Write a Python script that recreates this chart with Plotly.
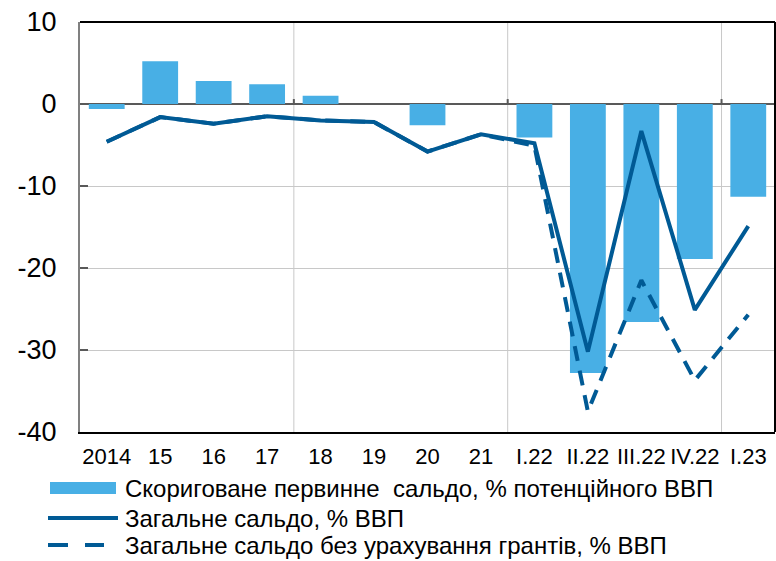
import plotly.graph_objects as go

categories = ["2014", "15", "16", "17", "18", "19", "20", "21",
              "I.22", "II.22", "III.22", "IV.22", "I.23"]
adjusted_primary = [-0.6, 5.2, 2.8, 2.4, 1.0, None, -2.6, None,
                    -4.1, -32.8, -26.6, -18.9, -11.3]
overall_balance = [-4.6, -1.6, -2.4, -1.5, -2.0, -2.2, -5.8, -3.7,
                   -4.8, -30.2, -3.3, -25.1, -14.9]
overall_no_grants = [-4.6, -1.6, -2.4, -1.5, -2.0, -2.2, -5.8, -3.7,
                     -5.1, -37.5, -21.5, -33.7, -25.7]
y_ticks = [10, 0, -10, -20, -30, -40]
legend_labels = ["Скориговане первинне  сальдо, % потенційного ВВП",
                 "Загальне сальдо, % ВВП",
                 "Загальне сальдо без урахування грантів, % ВВП"]

BAR = "#48AFE5"
LINE = "#005A95"
FONT = "Liberation Sans, Arial, sans-serif"

W, H = 776, 561
L, R, T, B = 80, 1, 22, 129
PW, PH = W - L - R, H - T - B

def px_x(px):
    return (px - L) / PW

def px_y(py):
    return (H - B - py) / PH

fig = go.Figure()
fig.add_trace(go.Bar(x=categories, y=adjusted_primary, marker_color=BAR,
                     marker_line_width=0, name=legend_labels[0], showlegend=False))
fig.add_trace(go.Scatter(x=categories, y=overall_no_grants, mode="lines",
                         line=dict(color=LINE, width=4, dash="15px,10px"),
                         name=legend_labels[2], showlegend=False))
fig.add_trace(go.Scatter(x=categories, y=overall_balance, mode="lines",
                         line=dict(color=LINE, width=4),
                         name=legend_labels[1], showlegend=False))

shapes = []
for xv in [3.5, 7.5, 11.5]:
    shapes.append(dict(type="line", xref="x", yref="paper", x0=xv, x1=xv, y0=0, y1=1,
                       line=dict(color="#C8C8C8", width=1), layer="below"))
    shapes.append(dict(type="line", xref="x", yref="y", x0=xv, x1=xv, y0=0, y1=0.6,
                       line=dict(color="#595959", width=2)))
shapes.append(dict(type="line", xref="paper", yref="paper", x0=0, x1=1, y0=1, y1=1,
                   line=dict(color="#000000", width=2)))
shapes.append(dict(type="line", xref="paper", yref="paper", x0=1, x1=1, y0=0, y1=1,
                   line=dict(color="#000000", width=2)))

rows = [488, 518, 545]
# manual legend
shapes.append(dict(type="rect", xref="paper", yref="paper",
                   x0=px_x(50), x1=px_x(116), y0=px_y(rows[0] + 6), y1=px_y(rows[0] - 6),
                   fillcolor=BAR, line=dict(width=0)))
shapes.append(dict(type="line", xref="paper", yref="paper",
                   x0=px_x(48), x1=px_x(118), y0=px_y(rows[1]), y1=px_y(rows[1]),
                   line=dict(color=LINE, width=4)))
for a, b in [(48, 68), (85, 104)]:
    shapes.append(dict(type="line", xref="paper", yref="paper",
                       x0=px_x(a), x1=px_x(b), y0=px_y(rows[2]), y1=px_y(rows[2]),
                       line=dict(color=LINE, width=4)))

annotations = []
for lbl, yy in zip(legend_labels, rows):
    annotations.append(dict(text=lbl, xref="paper", yref="paper", x=px_x(123), y=px_y(yy),
                            xanchor="left", yanchor="middle", showarrow=False,
                            font=dict(family=FONT, size=24, color="#000000")))

fig.update_layout(
    width=W, height=H,
    margin=dict(l=L, r=R, t=T, b=B, pad=0),
    paper_bgcolor="white", plot_bgcolor="white",
    bargap=0.33,
    font=dict(family=FONT, color="#000000"),
    shapes=shapes, annotations=annotations,
    showlegend=False,
)
fig.update_xaxes(type="category", showgrid=False, zeroline=False,
                 showline=True, linecolor="#000000", linewidth=2,
                 ticks="", tickfont=dict(size=22, family=FONT),
                 ticklabelstandoff=4, range=[-0.5, 12.5])
fig.update_yaxes(range=[-40, 10], tickvals=y_ticks, ticktext=[str(v) for v in y_ticks],
                 showgrid=True, gridcolor="#C8C8C8", gridwidth=1,
                 zeroline=True, zerolinecolor="#595959", zerolinewidth=2,
                 showline=True, linecolor="#808080", linewidth=2,
                 ticks="inside", ticklen=8, tickcolor="#595959", tickwidth=2,
                 tickfont=dict(size=27, family=FONT), ticklabelstandoff=16)

fig.write_html("out.html", config={"displayModeBar": False},
               post_script="document.body.style.margin='0';document.body.style.padding='0';document.body.style.overflow='hidden';")
